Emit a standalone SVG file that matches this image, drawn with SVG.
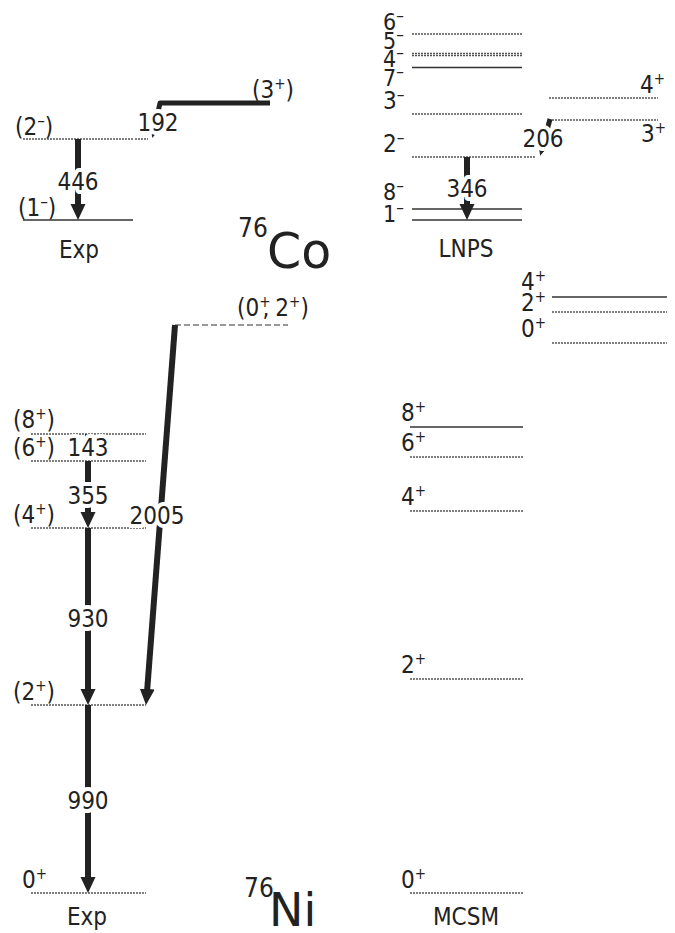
<svg xmlns="http://www.w3.org/2000/svg" width="675" height="933" viewBox="0 0 675 933">
<style>
text{font-family:"DejaVu Sans Condensed","DejaVu Sans",sans-serif;font-stretch:condensed;font-size:24px;fill:#222}
.big{font-family:"DejaVu Sans",sans-serif;font-stretch:normal;font-size:49px}
.iso{font-size:26px}
.stk{font-size:23px}
.mid{text-anchor:middle}
.halo{stroke:#fff;stroke-width:8px;paint-order:stroke;stroke-linejoin:round}
.sup{font-size:15px}
.sm{font-size:17px}
.lv{stroke:#333;stroke-width:1.3;fill:none}
.dot{stroke:#555;stroke-width:1.3;stroke-dasharray:2 1;fill:none}
.dash{stroke:#777;stroke-width:1.3;stroke-dasharray:6 3;fill:none}
.tr{stroke:#222;stroke-width:6;fill:none;marker-end:url(#ah)}
.trs{stroke:#222;stroke-width:5;fill:none;stroke-linejoin:round;marker-end:url(#as)}
</style>
<defs>
<marker id="ah" viewBox="0 -8 16 16" refX="6" refY="0" markerWidth="16" markerHeight="16" markerUnits="userSpaceOnUse" orient="auto"><path d="M0,-7.5 L16,0 L0,7.5 z" fill="#222"/></marker>
<marker id="as" viewBox="0 -5 10 10" refX="4" refY="0" markerWidth="10" markerHeight="10" markerUnits="userSpaceOnUse" orient="auto"><path d="M0,-4 L9,0 L0,4 z" fill="#222"/></marker>
</defs>
<rect width="675" height="933" fill="#fff"/>

<!-- 76Co Exp -->
<g id="co-exp-2m"><line class="dot" x1="23" y1="139" x2="133" y2="139"/><line class="dot" x1="135" y1="139" x2="148" y2="139" stroke-dasharray="1 3"/><text x="15" y="135">(2<tspan class="sm" dy="-9">–</tspan><tspan dy="9">)</tspan></text></g>
<g id="co-exp-1m"><line class="lv" x1="23" y1="220" x2="133" y2="220"/><text x="18" y="216">(1<tspan class="sm" dy="-9">–</tspan><tspan dy="9">)</tspan></text></g>
<g id="co-exp-3p"><text x="252" y="98">(3<tspan class="sup" dy="-9">+</tspan><tspan dy="9">)</tspan></text></g>
<g id="co-exp-label"><text class="mid" x="79" y="258">Exp</text></g>
<g id="co-name"><text class="iso" x="238" y="237">76</text><text class="big" x="267" y="268">Co</text></g>

<!-- 76Co LNPS -->
<g id="co-lnps-6m"><text class="stk" x="383" y="30">6<tspan class="sm" dy="-9">–</tspan></text></g>
<g id="co-lnps-5m"><line class="dot" x1="412" y1="34" x2="522" y2="34"/><text class="stk" x="383" y="49">5<tspan class="sm" dy="-9">–</tspan></text></g>
<g id="co-lnps-4m"><line class="dot" x1="412" y1="53.5" x2="522" y2="53.5"/><line class="dot" x1="412" y1="55.5" x2="522" y2="55.5"/><text class="stk" x="383" y="67">4<tspan class="sm" dy="-9">–</tspan></text></g>
<g id="co-lnps-7m"><line class="lv" x1="412" y1="67.5" x2="522" y2="67.5"/><text class="stk" x="383" y="86">7<tspan class="sm" dy="-9">–</tspan></text></g>
<g id="co-lnps-3m"><line class="dot" x1="412" y1="114" x2="522" y2="114"/><text x="383" y="109">3<tspan class="sm" dy="-9">–</tspan></text></g>
<g id="co-lnps-2m"><line class="dot" x1="412" y1="157" x2="522" y2="157"/><line class="dot" x1="524" y1="157" x2="536" y2="157" stroke-dasharray="1 3"/><text x="383" y="152">2<tspan class="sm" dy="-9">–</tspan></text></g>
<g id="co-lnps-8m"><line class="lv" x1="412" y1="209" x2="522" y2="209"/><text class="stk" x="383" y="200">8<tspan class="sm" dy="-9">–</tspan></text></g>
<g id="co-lnps-1m"><line class="lv" x1="412" y1="220" x2="522" y2="220"/><text class="stk" x="383" y="222">1<tspan class="sm" dy="-9">–</tspan></text></g>
<g id="co-lnps-4p"><line class="dot" x1="549" y1="98" x2="658" y2="98"/><text x="640" y="93">4<tspan class="sup" dy="-9">+</tspan></text></g>
<g id="co-lnps-3p"><line class="dot" x1="549" y1="120" x2="658" y2="120"/><text x="641" y="142">3<tspan class="sup" dy="-9">+</tspan></text></g>
<g id="co-lnps-label"><text class="mid" x="466" y="257">LNPS</text></g>

<!-- 76Ni Exp -->
<g id="ni-exp-02"><line class="dash" x1="175" y1="325" x2="288" y2="325"/><text x="237" y="316">(0<tspan class="sup" dy="-9">+</tspan><tspan dy="9" dx="-8">,</tspan><tspan dx="6">2</tspan><tspan class="sup" dy="-9">+</tspan><tspan dy="9">)</tspan></text></g>
<g id="ni-exp-8p"><line class="dot" x1="31" y1="434" x2="146" y2="434"/><text x="13" y="428">(8<tspan class="sup" dy="-9">+</tspan><tspan dy="9">)</tspan></text></g>
<g id="ni-exp-6p"><line class="dot" x1="31" y1="461" x2="146" y2="461"/><text x="13" y="456">(6<tspan class="sup" dy="-9">+</tspan><tspan dy="9">)</tspan></text></g>
<g id="ni-exp-4p"><line class="dot" x1="31" y1="528" x2="146" y2="528"/><text x="13" y="523">(4<tspan class="sup" dy="-9">+</tspan><tspan dy="9">)</tspan></text></g>
<g id="ni-exp-2p"><line class="dot" x1="31" y1="705" x2="146" y2="705"/><text x="13" y="700">(2<tspan class="sup" dy="-9">+</tspan><tspan dy="9">)</tspan></text></g>
<g id="ni-exp-0p"><line class="dot" x1="31" y1="893" x2="146" y2="893"/><text x="22" y="888">0<tspan class="sup" dy="-9">+</tspan></text></g>
<g id="ni-exp-label"><text class="mid" x="87" y="925">Exp</text></g>
<g id="ni-name"><text class="iso" x="244" y="897">76</text><text class="big" x="269" y="926" style="font-size:46px">Ni</text></g>

<!-- 76Ni MCSM -->
<g id="ni-mcsm-4p-hi"><text x="521" y="290">4<tspan class="sup" dy="-9">+</tspan></text></g>
<g id="ni-mcsm-2p-hi"><line class="lv" x1="552" y1="297" x2="667" y2="297"/><line class="dot" x1="552" y1="312" x2="667" y2="312"/><text x="521" y="311">2<tspan class="sup" dy="-9">+</tspan></text></g>
<g id="ni-mcsm-0p-hi"><line class="dot" x1="552" y1="343" x2="667" y2="343"/><text x="521" y="337">0<tspan class="sup" dy="-9">+</tspan></text></g>
<g id="ni-mcsm-8p"><line class="lv" x1="410" y1="427" x2="523" y2="427"/><text x="401" y="421">8<tspan class="sup" dy="-9">+</tspan></text></g>
<g id="ni-mcsm-6p"><line class="dot" x1="410" y1="457" x2="523" y2="457"/><text x="401" y="451">6<tspan class="sup" dy="-9">+</tspan></text></g>
<g id="ni-mcsm-4p"><line class="dot" x1="410" y1="511" x2="523" y2="511"/><text x="401" y="505">4<tspan class="sup" dy="-9">+</tspan></text></g>
<g id="ni-mcsm-2p"><line class="dot" x1="410" y1="679" x2="523" y2="679"/><text x="401" y="673">2<tspan class="sup" dy="-9">+</tspan></text></g>
<g id="ni-mcsm-0p"><line class="dot" x1="410" y1="893" x2="523" y2="893"/><text x="401" y="888">0<tspan class="sup" dy="-9">+</tspan></text></g>
<g id="ni-mcsm-label"><text class="mid" x="466" y="925">MCSM</text></g>

<!-- connectors -->
<g id="connectors">
<line class="tr" x1="78" y1="139" x2="78" y2="210"/>
<path class="trs" d="M270,103 L160,103 L153.5,133"/>
<line class="tr" x1="467" y1="157" x2="467" y2="210"/>
<path class="trs" d="M550,119 L541.5,151"/>
<line x1="88" y1="434" x2="88" y2="445" stroke="#222" stroke-width="6"/>
<line class="tr" x1="88" y1="461" x2="88" y2="518"/>
<line class="tr" x1="88" y1="528" x2="88" y2="695"/>
<line class="tr" x1="88" y1="705" x2="88" y2="883"/>
<line class="tr" x1="175" y1="325" x2="146.8" y2="695" stroke-width="7"/>
</g>

<!-- connector labels -->
<g id="connector-labels">
<text class="mid halo" x="78" y="190">446</text>
<text class="mid halo" x="158" y="131">192</text>
<text class="mid halo" x="467" y="197">346</text>
<text class="mid halo" x="543" y="147">206</text>
<text class="mid halo" x="88" y="456">143</text>
<text class="mid halo" x="88" y="504">355</text>
<text class="mid halo" x="157" y="524">2005</text>
<text class="mid halo" x="88" y="627">930</text>
<text class="mid halo" x="88" y="809">990</text>
</g>
</svg>
